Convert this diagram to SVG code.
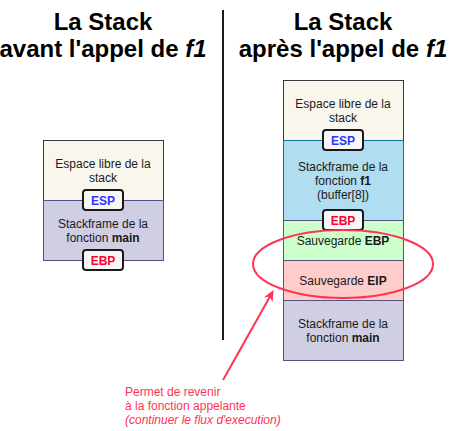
<svg xmlns="http://www.w3.org/2000/svg" width="453" height="431" viewBox="0 0 453 431">
<defs>
<style>
text{font-family:"Liberation Sans",Arial,sans-serif;}
.t{font-size:24px;font-weight:bold;text-anchor:middle;fill:#000;}
.l{font-size:12px;text-anchor:middle;fill:#1a1a1a;}
.tag{font-size:12px;font-weight:bold;text-anchor:middle;}
.tagbox{fill:#f7f7f7;stroke:#1a1a1a;stroke-width:2;}
.free{fill:#f9f7ed;stroke:#36393d;}
.main{fill:#d0cee2;stroke:#56517e;}
.f1{fill:#b1ddf0;stroke:#10739e;}
.sebp{fill:#ccffcc;stroke:#56517e;}
.seip{fill:#ffcccc;stroke:#56517e;}
.note{font-size:12px;fill:#ff3352;}
</style>
<marker id="ah" viewBox="0 0 10 10" refX="7" refY="5" markerWidth="11" markerHeight="11" orient="auto" markerUnits="userSpaceOnUse">
<path d="M0,0.5 L10,5 L0,9.5 L3,5 Z" fill="#ff3352"/>
</marker>
</defs>
<g id="titles">
<text class="t" x="103" y="30">La Stack</text>
<text class="t" x="103" y="57">avant l'appel de <tspan font-style="italic">f1</tspan></text>
<text class="t" x="343" y="30">La Stack</text>
<text class="t" x="343" y="57">après l'appel de <tspan font-style="italic">f1</tspan></text>
</g>
<line id="divider" x1="223" y1="10" x2="223" y2="340" stroke="#1a1a1a" stroke-width="2"/>
<g id="left-free"><rect class="free" x="43.5" y="140.5" width="120" height="60"/>
<text class="l" x="103" y="168">Espace libre de la</text><text class="l" x="103" y="182">stack</text></g>
<g id="left-main"><rect class="main" x="43.5" y="200.5" width="120" height="60"/>
<text class="l" x="103" y="228">Stackframe de la</text><text class="l" x="103" y="242">fonction <tspan font-weight="bold">main</tspan></text></g>
<g id="left-esp"><rect class="tagbox" x="83" y="190" width="40" height="20" rx="3"/><text class="tag" x="103" y="205" fill="#3333ff">ESP</text></g>
<g id="left-ebp"><rect class="tagbox" x="83" y="250" width="40" height="20" rx="3"/><text class="tag" x="103" y="265" fill="#ff0033">EBP</text></g>
<g id="right-free"><rect class="free" x="283.5" y="80.5" width="120" height="60"/>
<text class="l" x="343" y="108">Espace libre de la</text><text class="l" x="343" y="122">stack</text></g>
<g id="right-f1"><rect class="f1" x="283.5" y="140.5" width="120" height="80"/>
<text class="l" x="343" y="171">Stackframe de la</text><text class="l" x="343" y="185">fonction <tspan font-weight="bold">f1</tspan></text><text class="l" x="343" y="199">(buffer[8])</text></g>
<g id="right-sebp"><rect class="sebp" x="283.5" y="220.5" width="120" height="40"/>
<text class="l" x="343" y="245" fill="#006633">Sauvegarde <tspan font-weight="bold">EBP</tspan></text></g>
<g id="right-seip"><rect class="seip" x="283.5" y="260.5" width="120" height="40"/>
<text class="l" x="343" y="285" fill="#660000">Sauvegarde <tspan font-weight="bold">EIP</tspan></text></g>
<g id="right-main"><rect class="main" x="283.5" y="300.5" width="120" height="60"/>
<text class="l" x="343" y="328">Stackframe de la</text><text class="l" x="343" y="342">fonction <tspan font-weight="bold">main</tspan></text></g>
<g id="right-esp"><rect class="tagbox" x="323" y="130" width="40" height="20" rx="3"/><text class="tag" x="343" y="145" fill="#3333ff">ESP</text></g>
<g id="right-ebp"><rect class="tagbox" x="323" y="210" width="40" height="20" rx="3"/><text class="tag" x="343" y="225" fill="#ff0033">EBP</text></g>
<g id="highlight"><ellipse cx="343" cy="264" rx="90" ry="34" fill="none" stroke="#ff3352" stroke-width="2"/></g>
<g id="connectors"><line x1="223" y1="380" x2="272" y2="293" stroke="#ff3352" stroke-width="2" marker-end="url(#ah)"/></g>
<g id="note">
<text class="note" x="125" y="396">Permet de revenir</text>
<text class="note" x="125" y="410">à la fonction appelante</text>
<text class="note" x="125" y="424" font-style="italic">(continuer le flux d'execution)</text>
</g>
</svg>
